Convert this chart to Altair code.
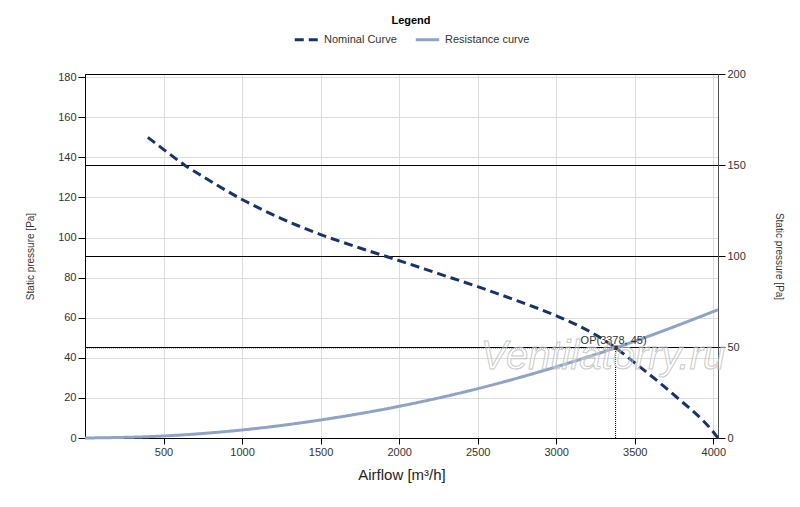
import altair as alt
import pandas as pd

# Nominal (fan) curve
nom_x = [400, 500, 637, 750, 1000, 1250, 1500, 1750, 2000, 2250, 2500, 2750, 3000, 3250, 3378, 3500, 3750, 4000, 4030]
nom_y = [150, 144, 136, 130.5, 119, 109.5, 101.5, 94.8, 88.5, 82, 75.5, 68.5, 61, 51.5, 45, 37.5, 21.5, 3, 0]

# Resistance curve
res_x = [0, 500, 1000, 1500, 2000, 2500, 3000, 3378, 3500, 4030]
res_y = [0, 1, 4, 9, 15.8, 24.6, 35.5, 45, 48.3, 64]

series_names = ["Nominal Curve", "Resistance curve"]
series_colors = ["#17336b", "#8ea3c6"]

op_x = [3378]
op_y = [45]
op_label = ["OP(3378, 45)"]

x_ticks = [500, 1000, 1500, 2000, 2500, 3000, 3500, 4000]
left_ticks = [0, 20, 40, 60, 80, 100, 120, 140, 160, 180]
right_ticks = [0, 50, 100, 150, 200]

curves = pd.DataFrame(
    {"airflow": nom_x, "pressure": nom_y, "series": [series_names[0]] * len(nom_x)}
)
curves = pd.concat(
    [curves, pd.DataFrame({"airflow": res_x, "pressure": res_y, "series": [series_names[1]] * len(res_x)})],
    ignore_index=True,
)
op = pd.DataFrame({"x": op_x, "y": op_y, "x0": [0], "y0": [0], "label": op_label})
right_df = pd.DataFrame({"v": [right_ticks[0], right_ticks[-1]]})

FONT = "Liberation Sans"

xscale = alt.Scale(domain=[0, 4030], nice=False, zero=False)
yscale = alt.Scale(domain=[0, 181.6], nice=False)

xaxis = alt.Axis(
    title="Airflow [m³/h]", values=x_ticks, format="d", grid=True, gridColor="#dddddd",
    domainColor="#000000", tickColor="#000000", tickSize=6,
    labelFont=FONT, labelFontSize=11, labelColor="#333333",
    titleFont=FONT, titleFontSize=15, titleFontWeight="normal", titleColor="#222222", titlePadding=10,
)
yaxis = alt.Axis(
    title="Static pressure [Pa]", values=left_ticks, grid=True, gridColor="#dddddd",
    domainColor="#000000", tickColor="#000000", tickSize=7,
    labelFont=FONT, labelFontSize=11, labelColor="#333333",
    titleFont=FONT, titleFontSize=10, titleFontWeight="normal", titleColor="#333333", titlePadding=22,
)

lines = alt.Chart(curves).mark_line(strokeWidth=3, interpolate="monotone").encode(
    x=alt.X("airflow:Q", scale=xscale, axis=xaxis),
    y=alt.Y("pressure:Q", scale=yscale, axis=yaxis),
    color=alt.Color(
        "series:N",
        scale=alt.Scale(domain=series_names, range=series_colors),
        legend=alt.Legend(
            title="Legend", orient="none", legendX=208, legendY=-59, direction="horizontal",
            titleAnchor="middle", titleOrient="top", titleFont=FONT, titleFontSize=11,
            titleFontWeight="bold", titleColor="#000000", labelFont=FONT, labelFontSize=11,
            labelColor="#333333", symbolType="stroke", symbolSize=550, symbolStrokeWidth=3,
            columnPadding=12, titlePadding=0, labelOffset=4,
        ),
    ),
    strokeDash=alt.StrokeDash(
        "series:N",
        scale=alt.Scale(domain=series_names, range=[[9, 5], [1, 0]]),
        legend=alt.Legend(title="Legend"),
    ),
)

hrule = alt.Chart(op).mark_rule(color="#000000", strokeDash=[1, 1], strokeWidth=1).encode(
    x="x0:Q", x2="x:Q", y="y:Q"
)
vrule = alt.Chart(op).mark_rule(color="#000000", strokeDash=[1, 1], strokeWidth=1).encode(
    x="x:Q", y="y0:Q", y2="y:Q"
)
point = alt.Chart(op).mark_point(shape="square", filled=True, size=20, color="#333333", opacity=1).encode(
    x="x:Q", y="y:Q"
)
label = alt.Chart(op).mark_text(font=FONT, fontSize=11, color="#333333", baseline="bottom", dy=-2, dx=-2).encode(
    x="x:Q", y="y:Q", text="label:N"
)

left = alt.layer(lines, hrule, vrule, point, label)

right = alt.Chart(right_df).mark_point(opacity=0).encode(
    y=alt.Y(
        "v:Q", scale=alt.Scale(domain=[0, 200], nice=False),
        axis=alt.Axis(
            orient="right", title="Static pressure [Pa]", values=right_ticks, grid=True,
            gridColor="#000000", gridWidth=1, domainColor="#555555", tickColor="#000000", tickSize=7,
            labelFont=FONT, labelFontSize=11, labelColor="#333333",
            titleFont=FONT, titleFontSize=10, titleFontWeight="normal", titleColor="#333333", titlePadding=28,
        ),
    )
)

watermark = alt.Chart(op).mark_text(
    font=FONT, fontSize=40, fontStyle="italic", fill="#ffffff", fillOpacity=0.3,
    stroke="#bbbbbb", strokeWidth=1, strokeOpacity=0.8, align="center", baseline="middle",
).encode(x=alt.value(518), y=alt.value(283), text=alt.value("Ventilatorry.ru"))

chart = alt.layer(left, right, watermark).resolve_scale(y="independent").properties(
    width=633, height=364, autosize=alt.AutoSizeParams(type="none"),
    padding={"left": 77, "top": 66, "right": 74, "bottom": 61},
    background="#ffffff",
).configure_view(stroke="#333333", strokeWidth=1)

chart.save("out.html", embed_options={"renderer": "svg", "actions": False})
